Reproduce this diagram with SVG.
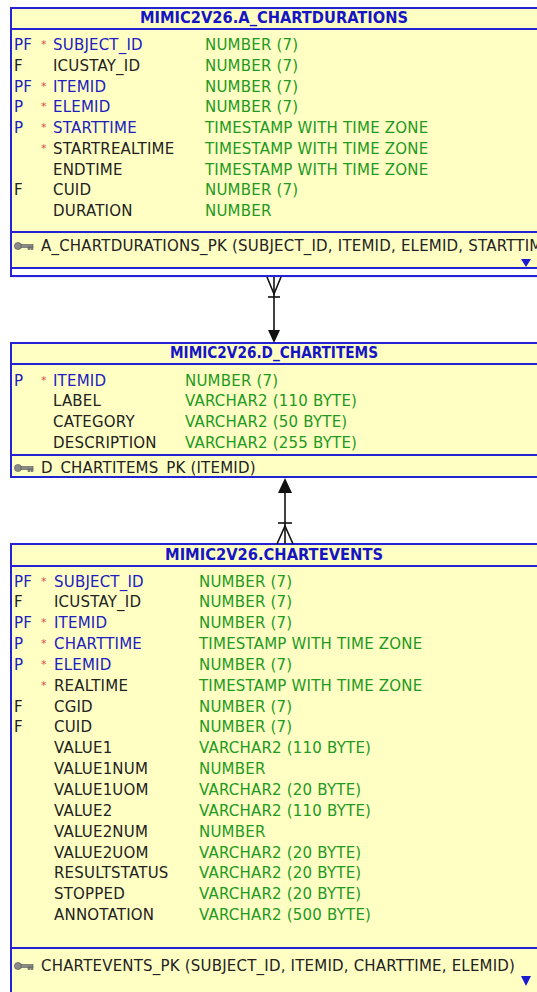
<svg xmlns="http://www.w3.org/2000/svg" width="537" height="992" viewBox="0 0 537 992">
<style>
text{font-family:"DejaVu Sans","Liberation Sans",sans-serif;font-size:15px;letter-spacing:0.2px}
.bg{fill:#ffffc4;stroke:#2323d3;stroke-width:2}
.ln{stroke:#2323d3;stroke-width:2;fill:none}
.ttl{font-family:"DejaVu Sans Condensed","DejaVu Sans",sans-serif;font-weight:bold;fill:#1515c5;font-size:15px;letter-spacing:0}
.k{fill:#2020c0}
.n{fill:#222222}
.t{fill:#229922}
.ast{fill:#e04848;font-size:11px}
.fl{fill:#2020c0}
.fb{fill:#222222}
.tri{fill:#1a1ad0}
.cn{stroke:#111;stroke-width:1.6;fill:none}
.ah{fill:#111}
.key{fill:#8a8a8a;stroke:#555;stroke-width:0.6}
</style>
<defs>
<g id="keyicon">
<circle class="key" cx="0" cy="0" r="3.6"/>
<rect class="key" x="3" y="-1.4" width="12" height="2.8"/>
<rect class="key" x="10" y="1" width="2" height="2.5"/>
<rect class="key" x="13" y="1" width="2" height="2.5"/>
</g>
</defs>

<g id="t_chartdurations">
<rect x="11" y="276" width="540" height="0.1" class="ln"/>
<rect class="bg" x="11" y="8" width="540" height="260"/>
<line class="ln" x1="11" y1="268" x2="11" y2="276"/>
<line class="ln" x1="11" y1="29" x2="551" y2="29"/>
<line class="ln" x1="11" y1="232" x2="551" y2="232"/>
<text class="ttl" x="274" y="23" text-anchor="middle" textLength="268" lengthAdjust="spacingAndGlyphs">MIMIC2V26.A_CHARTDURATIONS</text>
<text class="fl" x="14" y="50">PF</text><text class="ast" x="41" y="48">*</text><text class="k" x="53" y="50">SUBJECT_ID</text><text class="t" x="205" y="50">NUMBER (7)</text>
<text class="fb" x="14" y="70.75">F</text><text class="n" x="53" y="70.75">ICUSTAY_ID</text><text class="t" x="205" y="70.75">NUMBER (7)</text>
<text class="fl" x="14" y="91.5">PF</text><text class="ast" x="41" y="89.5">*</text><text class="k" x="53" y="91.5">ITEMID</text><text class="t" x="205" y="91.5">NUMBER (7)</text>
<text class="fl" x="14" y="112.25">P</text><text class="ast" x="41" y="110.25">*</text><text class="k" x="53" y="112.25">ELEMID</text><text class="t" x="205" y="112.25">NUMBER (7)</text>
<text class="fl" x="14" y="133">P</text><text class="ast" x="41" y="131">*</text><text class="k" x="53" y="133">STARTTIME</text><text class="t" x="205" y="133">TIMESTAMP WITH TIME ZONE</text>
<text class="ast" x="41" y="151.75">*</text><text class="n" x="53" y="153.75">STARTREALTIME</text><text class="t" x="205" y="153.75">TIMESTAMP WITH TIME ZONE</text>
<text class="n" x="53" y="174.5">ENDTIME</text><text class="t" x="205" y="174.5">TIMESTAMP WITH TIME ZONE</text>
<text class="fb" x="14" y="195.25">F</text><text class="n" x="53" y="195.25">CUID</text><text class="t" x="205" y="195.25">NUMBER (7)</text>
<text class="n" x="53" y="216">DURATION</text><text class="t" x="205" y="216">NUMBER</text>
<use href="#keyicon" x="18" y="246"/>
<text class="n" x="41" y="250.5">A_CHARTDURATIONS_PK (SUBJECT_ID, ITEMID, ELEMID, STARTTIME)</text>
<polygon class="tri" points="521,259 531,259 526,267"/>
</g>

<g id="t_d_chartitems">
<rect class="bg" x="11" y="343" width="540" height="134"/>
<line class="ln" x1="11" y1="364" x2="551" y2="364"/>
<line class="ln" x1="11" y1="455" x2="551" y2="455"/>
<text class="ttl" x="274" y="358" text-anchor="middle" textLength="208" lengthAdjust="spacingAndGlyphs">MIMIC2V26.D_CHARTITEMS</text>
<text class="fl" x="14" y="385.5">P</text><text class="ast" x="41" y="383.5">*</text><text class="k" x="53" y="385.5">ITEMID</text><text class="t" x="185" y="385.5">NUMBER (7)</text>
<text class="n" x="53" y="406.2">LABEL</text><text class="t" x="185" y="406.2">VARCHAR2 (110 BYTE)</text>
<text class="n" x="53" y="426.9">CATEGORY</text><text class="t" x="185" y="426.9">VARCHAR2 (50 BYTE)</text>
<text class="n" x="53" y="447.6">DESCRIPTION</text><text class="t" x="185" y="447.6">VARCHAR2 (255 BYTE)</text>
<use href="#keyicon" x="18" y="468"/>
<text class="n" x="41" y="473">D_CHARTITEMS_PK (ITEMID)</text>
<line class="ln" x1="11" y1="477" x2="551" y2="477"/>
</g>

<g id="t_chartevents">
<rect class="bg" x="11" y="544" width="540" height="460"/>
<line class="ln" x1="11" y1="566" x2="551" y2="566"/>
<line class="ln" x1="11" y1="948" x2="551" y2="948"/>
<text class="ttl" x="274" y="560" text-anchor="middle" textLength="218" lengthAdjust="spacingAndGlyphs">MIMIC2V26.CHARTEVENTS</text>
<text class="fl" x="14" y="586.5">PF</text><text class="ast" x="41" y="584.5">*</text><text class="k" x="54" y="586.5">SUBJECT_ID</text><text class="t" x="199" y="586.5">NUMBER (7)</text>
<text class="fb" x="14" y="607.35">F</text><text class="n" x="54" y="607.35">ICUSTAY_ID</text><text class="t" x="199" y="607.35">NUMBER (7)</text>
<text class="fl" x="14" y="628.2">PF</text><text class="ast" x="41" y="626.2">*</text><text class="k" x="54" y="628.2">ITEMID</text><text class="t" x="199" y="628.2">NUMBER (7)</text>
<text class="fl" x="14" y="649.05">P</text><text class="ast" x="41" y="647.05">*</text><text class="k" x="54" y="649.05">CHARTTIME</text><text class="t" x="199" y="649.05">TIMESTAMP WITH TIME ZONE</text>
<text class="fl" x="14" y="669.9">P</text><text class="ast" x="41" y="667.9">*</text><text class="k" x="54" y="669.9">ELEMID</text><text class="t" x="199" y="669.9">NUMBER (7)</text>
<text class="ast" x="41" y="688.75">*</text><text class="n" x="54" y="690.75">REALTIME</text><text class="t" x="199" y="690.75">TIMESTAMP WITH TIME ZONE</text>
<text class="fb" x="14" y="711.6">F</text><text class="n" x="54" y="711.6">CGID</text><text class="t" x="199" y="711.6">NUMBER (7)</text>
<text class="fb" x="14" y="732.45">F</text><text class="n" x="54" y="732.45">CUID</text><text class="t" x="199" y="732.45">NUMBER (7)</text>
<text class="n" x="54" y="753.3">VALUE1</text><text class="t" x="199" y="753.3">VARCHAR2 (110 BYTE)</text>
<text class="n" x="54" y="774.15">VALUE1NUM</text><text class="t" x="199" y="774.15">NUMBER</text>
<text class="n" x="54" y="795">VALUE1UOM</text><text class="t" x="199" y="795">VARCHAR2 (20 BYTE)</text>
<text class="n" x="54" y="815.85">VALUE2</text><text class="t" x="199" y="815.85">VARCHAR2 (110 BYTE)</text>
<text class="n" x="54" y="836.7">VALUE2NUM</text><text class="t" x="199" y="836.7">NUMBER</text>
<text class="n" x="54" y="857.55">VALUE2UOM</text><text class="t" x="199" y="857.55">VARCHAR2 (20 BYTE)</text>
<text class="n" x="54" y="878.4">RESULTSTATUS</text><text class="t" x="199" y="878.4">VARCHAR2 (20 BYTE)</text>
<text class="n" x="54" y="899.25">STOPPED</text><text class="t" x="199" y="899.25">VARCHAR2 (20 BYTE)</text>
<text class="n" x="54" y="920.1">ANNOTATION</text><text class="t" x="199" y="920.1">VARCHAR2 (500 BYTE)</text>
<use href="#keyicon" x="18" y="966"/>
<text class="n" x="41" y="970.5">CHARTEVENTS_PK (SUBJECT_ID, ITEMID, CHARTTIME, ELEMID)</text>
<polygon class="tri" points="521,976 531,976 526,986"/>
</g>

<g id="connectors">
<line class="cn" x1="274" y1="277" x2="274" y2="333"/>
<polyline class="cn" points="267,277 274,294 281,277"/>
<line class="cn" x1="268" y1="297" x2="280" y2="297"/>
<polygon class="ah" points="268,330 280,330 274,343"/>
<line class="cn" x1="285" y1="490" x2="285" y2="544"/>
<polyline class="cn" points="277,544 285,526 293,544"/>
<line class="cn" x1="278" y1="523" x2="292" y2="523"/>
<polygon class="ah" points="278,493 292,493 285,478"/>
</g>
</svg>
